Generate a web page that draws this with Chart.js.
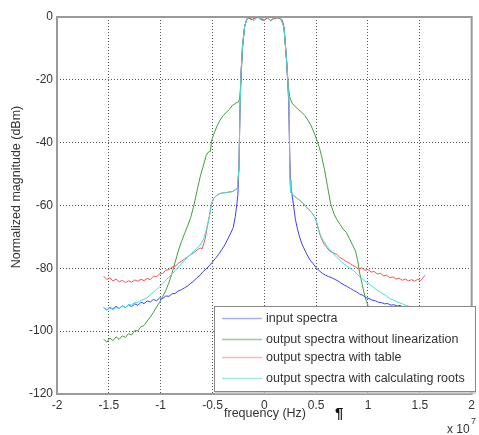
<!DOCTYPE html>
<html>
<head>
<meta charset="utf-8">
<script src="https://cdn.jsdelivr.net/npm/chart.js@4/dist/chart.umd.min.js"></script>
<style>
html,body{margin:0;padding:0;background:#fff;}
#wrap{width:479px;height:435px;position:relative;}
</style>
</head>
<body>
<div id="wrap"><canvas id="c" width="479" height="435"></canvas></div>
<script>
// x values in units of 1e7 Hz, y in dBm
const xTicks = [-2, -1.5, -1, -0.5, 0, 0.5, 1, 1.5, 2];
const yTicks = [0, -20, -40, -60, -80, -100, -120];
const seriesNames = ["input spectra", "output spectra without linearization", "output spectra with table", "output spectra with calculating roots"];

const freqInput = [-1.55,-1.52,-1.49,-1.46,-1.43,-1.40,-1.37,-1.34,-1.31,-1.28,-1.25,-1.22,-1.19,-1.16,-1.13,-1.10,-1.07,-1.04,-1.01,-0.98,-0.95,-0.92,-0.89,-0.86,-0.83,-0.80,-0.77,-0.74,-0.71,-0.68,-0.65,-0.62,-0.59,-0.56,-0.53,-0.50,-0.47,-0.44,-0.41,-0.38,-0.35,-0.32,-0.30,-0.28,-0.265,-0.255,-0.245,-0.235,-0.225,-0.21,-0.19,-0.17,-0.15,-0.12,-0.09,-0.06,-0.03,0,0.03,0.06,0.09,0.12,0.15,0.17,0.19,0.215,0.235,0.245,0.255,0.265,0.28,0.30,0.32,0.34,0.36,0.38,0.41,0.44,0.47,0.50,0.53,0.56,0.59,0.62,0.65,0.68,0.71,0.74,0.77,0.80,0.83,0.86,0.89,0.92,0.95,0.98,1.01,1.04,1.07,1.10,1.13,1.16,1.19,1.22,1.25,1.28,1.31,1.34,1.37,1.40,1.43,1.46,1.49,1.52,1.55];
const magInput = [-92.5,-93.2,-92.4,-93.0,-92.1,-92.8,-91.9,-92.5,-91.6,-92.2,-91.3,-91.8,-90.8,-91.2,-90.4,-90.7,-89.9,-90.3,-89.4,-89.6,-88.8,-88.9,-88.1,-88.0,-87.2,-86.8,-86.2,-85.6,-84.8,-84.0,-83.0,-82.2,-81.0,-80.2,-79.1,-78.0,-76.8,-75.5,-74.0,-72.5,-70.5,-68.5,-67.0,-63.5,-59.5,-56.5,-48,-30,-18,-9,-3,-0.8,-0.2,-0.9,-0.3,-0.1,-0.8,-1.0,-0.2,-1.1,-0.5,-0.2,-0.4,-0.9,-3.4,-14,-27,-45,-53.5,-56,-59.5,-64.5,-67.5,-70.0,-72.0,-73.5,-75.5,-77.3,-78.5,-79.8,-80.8,-81.6,-82.2,-82.6,-83.0,-83.5,-84.0,-84.7,-85.3,-85.8,-86.4,-87.0,-87.5,-88.2,-88.6,-89.3,-89.6,-90.1,-90.3,-90.8,-90.9,-91.3,-91.2,-91.7,-91.6,-92.0,-91.8,-92.4,-92.2,-92.7,-92.5,-93.0,-92.8,-93.2,-93.0];

const freqNoLin = [-1.55,-1.52,-1.49,-1.46,-1.43,-1.40,-1.37,-1.34,-1.31,-1.28,-1.25,-1.22,-1.19,-1.16,-1.13,-1.10,-1.07,-1.04,-1.01,-0.98,-0.95,-0.92,-0.89,-0.86,-0.83,-0.80,-0.77,-0.74,-0.71,-0.68,-0.65,-0.62,-0.59,-0.56,-0.54,-0.52,-0.51,-0.49,-0.46,-0.43,-0.40,-0.37,-0.34,-0.31,-0.28,-0.25,-0.238,-0.225,-0.21,-0.19,-0.17,-0.15,-0.12,-0.09,-0.06,-0.03,0,0.03,0.06,0.09,0.12,0.15,0.17,0.19,0.215,0.232,0.245,0.27,0.30,0.33,0.36,0.39,0.42,0.45,0.48,0.51,0.53,0.55,0.58,0.61,0.64,0.67,0.70,0.73,0.76,0.79,0.82,0.85,0.88,0.90,0.92,0.94,0.96,0.98,1.00,1.03,1.06,1.10,1.15,1.20,1.25,1.30,1.35,1.40,1.45,1.50,1.55];
const magNoLin = [-102.5,-103.5,-102.2,-103.0,-101.8,-102.6,-101.5,-102.0,-100.8,-101.2,-99.8,-99.9,-98.6,-98.2,-96.8,-95.5,-94.0,-92.3,-90.8,-89.0,-87.0,-84.5,-81.5,-78.0,-74.5,-71.5,-69.0,-66.5,-63.8,-60.0,-55.5,-51.0,-47.5,-44.0,-43.0,-42.8,-39.5,-37.5,-35.0,-33.0,-31.5,-30.5,-29.5,-28.2,-27.5,-27.0,-26.0,-20,-10,-3,-0.8,-0.3,-0.9,-0.3,-0.1,-0.8,-1.0,-0.2,-1.1,-0.5,-0.2,-0.4,-0.9,-3.4,-14,-22,-25.5,-27.5,-28.6,-29.5,-30.3,-31.3,-32.8,-34.5,-36.8,-39.5,-41.5,-44.0,-48.5,-54.0,-59.5,-62.5,-64.5,-66.0,-67.5,-68.5,-70.5,-72.5,-74.5,-77.5,-81.5,-84.5,-87.5,-90.0,-91.8,-93.5,-95.0,-96.5,-97.8,-98.8,-99.8,-100.6,-101.3,-101.9,-102.4,-102.8,-103.0];

const freqTable = [-1.55,-1.52,-1.49,-1.46,-1.43,-1.40,-1.37,-1.34,-1.31,-1.28,-1.25,-1.22,-1.19,-1.16,-1.13,-1.10,-1.07,-1.04,-1.01,-0.98,-0.95,-0.92,-0.89,-0.86,-0.83,-0.80,-0.77,-0.74,-0.71,-0.68,-0.65,-0.62,-0.60,-0.57,-0.55,-0.53,-0.51,-0.49,-0.46,-0.43,-0.40,-0.37,-0.34,-0.31,-0.28,-0.26,-0.245,-0.235,-0.225,-0.21,-0.19,-0.17,-0.15,-0.12,-0.09,-0.06,-0.03,0,0.03,0.06,0.09,0.12,0.15,0.17,0.19,0.215,0.238,0.248,0.255,0.28,0.31,0.34,0.37,0.40,0.43,0.46,0.49,0.51,0.53,0.55,0.58,0.60,0.63,0.66,0.70,0.73,0.76,0.79,0.82,0.85,0.88,0.91,0.94,0.97,1.00,1.03,1.06,1.09,1.12,1.15,1.18,1.21,1.24,1.27,1.30,1.33,1.36,1.39,1.42,1.45,1.48,1.51,1.53,1.55];
const magTable = [-82.5,-83.6,-83.0,-84.0,-83.4,-84.3,-83.8,-84.5,-84.0,-84.4,-83.7,-84.1,-83.5,-83.9,-83.2,-83.6,-82.5,-82.6,-81.8,-81.6,-80.6,-80.4,-79.6,-79.3,-78.4,-77.8,-77.0,-76.4,-75.6,-75.0,-74.2,-73.5,-73.8,-70.5,-66.5,-63.5,-59.5,-57.8,-56.8,-56.2,-56.0,-55.9,-55.7,-55.6,-55.0,-54.5,-48,-30,-18,-9,-3,-0.8,-0.2,-0.9,-0.3,-0.1,-0.8,-1.0,-0.2,-1.1,-0.5,-0.2,-0.4,-0.9,-3.4,-14,-27,-52,-55.8,-56.8,-57.5,-58.3,-59.2,-60.3,-61.3,-62.4,-63.8,-66.0,-68.5,-70.5,-72.5,-73.3,-74.5,-75.0,-75.6,-76.6,-77.2,-77.8,-78.3,-79.0,-79.5,-80.2,-79.8,-80.6,-80.4,-81.2,-81.0,-81.8,-81.6,-82.4,-82.2,-83.0,-82.7,-83.4,-83.1,-83.8,-83.4,-84.0,-83.6,-84.1,-83.5,-83.9,-83.0,-82.2];

const freqRoots = [-1.55,-1.52,-1.49,-1.46,-1.43,-1.40,-1.37,-1.34,-1.31,-1.28,-1.25,-1.22,-1.19,-1.16,-1.13,-1.10,-1.07,-1.04,-1.01,-0.98,-0.95,-0.92,-0.89,-0.86,-0.83,-0.80,-0.77,-0.74,-0.71,-0.68,-0.65,-0.62,-0.59,-0.57,-0.55,-0.53,-0.51,-0.49,-0.46,-0.43,-0.40,-0.37,-0.34,-0.31,-0.28,-0.26,-0.245,-0.235,-0.225,-0.21,-0.19,-0.17,-0.16,-0.14,-0.12,-0.10,-0.08,-0.06,-0.04,-0.02,0,0.02,0.04,0.06,0.08,0.10,0.12,0.14,0.16,0.19,0.215,0.238,0.248,0.255,0.28,0.31,0.34,0.37,0.40,0.43,0.46,0.49,0.51,0.53,0.55,0.57,0.60,0.63,0.66,0.70,0.74,0.78,0.82,0.86,0.90,0.94,0.98,1.01,1.05,1.09,1.13,1.17,1.21,1.25,1.29,1.33,1.37,1.41,1.45,1.50,1.55];
const magRoots = [-92.5,-93.3,-92.6,-93.1,-92.4,-92.9,-92.0,-92.4,-91.6,-91.6,-90.9,-90.8,-90.2,-89.9,-89.3,-88.4,-87.6,-86.7,-85.7,-84.9,-83.8,-82.8,-81.8,-80.7,-79.6,-78.6,-77.5,-76.4,-75.5,-74.5,-73.6,-72.6,-71.0,-69.0,-66.5,-63.5,-59.5,-57.8,-56.8,-56.2,-56.0,-55.9,-55.7,-55.6,-55.0,-54.5,-48,-30,-18,-9,-3,-0.8,-0.2,0,-0.6,-1.2,-0.4,0,-0.8,-0.3,-1.0,0,-0.5,-1.3,-0.7,0,-0.3,0,-0.8,-3.4,-14,-27,-52,-55.8,-56.8,-57.5,-58.3,-59.2,-60.3,-61.3,-62.4,-63.8,-66.0,-68.5,-70.0,-71.2,-72.8,-74.0,-75.2,-76.5,-77.8,-78.9,-79.8,-80.7,-82.0,-83.2,-84.3,-84.9,-86.0,-87.0,-87.8,-88.6,-89.6,-90.2,-90.8,-91.3,-91.8,-92.2,-92.5,-92.9,-93.0];

const colors = ["#3d3dff", "#3f9f3f", "#ff4f4f", "#3fe0e0"];
const legendColors = ["#a9aefc", "#97cd97", "#ffb5b5", "#9ceaea"];

function pts(xs, ys){ return xs.map((x,i)=>({x:x, y:ys[i]})); }

const FONT = "'Liberation Sans', Arial, Helvetica, sans-serif";

const overlay = {
  id: 'overlay',
  afterDatasetsDraw(chart){
    const ctx = chart.ctx, a = chart.chartArea;
    ctx.save();
    // frame
    ctx.strokeStyle = '#9a9a9a';
    ctx.lineWidth = 2;
    ctx.strokeRect(a.left, a.top, a.right - a.left, a.bottom - a.top);
    // legend box
    const lx = 214, ly = 306, lw = 261, lh = 85;
    ctx.fillStyle = '#fff';
    ctx.fillRect(lx, ly, lw, lh);
    ctx.strokeStyle = '#8a8a8a';
    ctx.lineWidth = 1;
    ctx.strokeRect(lx + 0.5, ly + 0.5, lw, lh);
    ctx.strokeStyle = '#c4c4c4';
    ctx.lineWidth = 1.5;
    ctx.beginPath();
    ctx.moveTo(lx + 1, ly + lh + 2);
    ctx.lineTo(lx + lw + 1, ly + lh + 2);
    ctx.stroke();
    const rowsY = [318, 339, 357, 378];
    ctx.font = '12.5px ' + FONT;
    ctx.textBaseline = 'middle';
    ctx.textAlign = 'left';
    seriesNames.forEach((n,i)=>{
      ctx.strokeStyle = legendColors[i];
      ctx.lineWidth = 1.5;
      ctx.beginPath();
      ctx.moveTo(222, rowsY[i] + 0.5);
      ctx.lineTo(262, rowsY[i] + 0.5);
      ctx.stroke();
      ctx.fillStyle = '#333';
      ctx.fillText(n, 266, rowsY[i] + 1);
    });
    ctx.restore();
  },
  afterDraw(chart){
    const ctx = chart.ctx, a = chart.chartArea;
    ctx.save();
    ctx.fillStyle = '#333';
    ctx.font = '12.5px ' + FONT;
    ctx.textAlign = 'center';
    ctx.textBaseline = 'middle';
    ctx.fillText('frequency (Hz)', 265, 414);
    ctx.save();
    ctx.translate(17, 187);
    ctx.rotate(-Math.PI / 2);
    ctx.fillText('Normalized magnitude (dBm)', 0, 0);
    ctx.restore();
    ctx.textAlign = 'left';
    ctx.font = '12px ' + FONT;
    ctx.fillText('x 10', 447, 430);
    ctx.font = '9px ' + FONT;
    ctx.fillText('7', 471, 422);
    ctx.fillStyle = '#111';
    ctx.font = 'bold 15px ' + FONT;
    ctx.fillText('\u00B6', 335, 414);
    ctx.restore();
  }
};

new Chart(document.getElementById('c'), {
  type: 'scatter',
  data: {
    datasets: [
      {label: seriesNames[0], data: pts(freqInput, magInput), borderColor: colors[0], order: 4},
      {label: seriesNames[1], data: pts(freqNoLin, magNoLin), borderColor: colors[1], order: 3},
      {label: seriesNames[2], data: pts(freqTable, magTable), borderColor: colors[2], order: 2},
      {label: seriesNames[3], data: pts(freqRoots, magRoots), borderColor: colors[3], order: 1}
    ].map(d => Object.assign(d, {showLine: true, pointRadius: 0, borderWidth: 1, fill: false, tension: 0}))
  },
  options: {
    responsive: false,
    animation: false,
    layout: {padding: {top: 17, right: 1, left: 0, bottom: 0}},
    plugins: {legend: {display: false}, tooltip: {enabled: false}},
    scales: {
      x: {
        type: 'linear', min: -2, max: 2,
        afterFit: s => { s.height = 41; },
        afterBuildTicks: s => { s.ticks = xTicks.map(v => ({value: v})); },
        ticks: {padding: 4, color: '#333', font: {size: 12, family: FONT}, maxRotation: 0, callback: v => String(v)},
        grid: {color: '#555', drawTicks: false, lineWidth: 1},
        border: {display: false, dash: [1, 2]}
      },
      y: {
        type: 'linear', min: -120, max: 0,
        afterFit: s => { s.width = 57; },
        afterBuildTicks: s => { s.ticks = yTicks.map(v => ({value: v})); },
        ticks: {padding: 4, color: '#333', font: {size: 12, family: FONT}, callback: v => String(v)},
        grid: {color: '#555', drawTicks: false, lineWidth: 1},
        border: {display: false, dash: [1, 2]}
      }
    }
  },
  plugins: [overlay]
});
</script>
</body>
</html>
